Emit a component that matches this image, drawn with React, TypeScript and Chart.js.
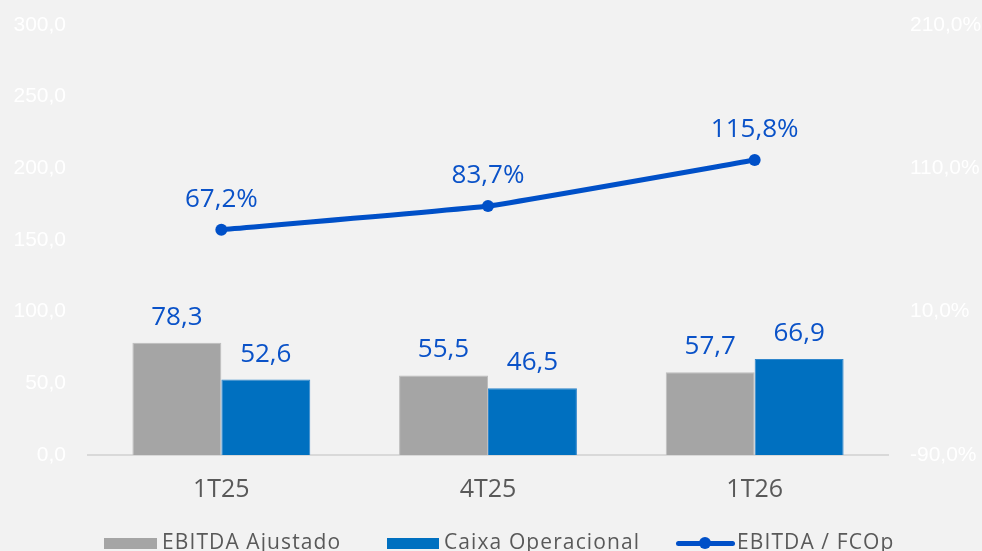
import React, { useEffect, useRef } from "react";
import { Chart, registerables } from "chart.js";

Chart.register(...registerables);

const categories = ["1T25", "4T25", "1T26"];
const ebitdaAjustado = [78.3, 55.5, 57.7];
const caixaOperacional = [52.6, 46.5, 66.9];
const ebitdaFcop = [67.2, 83.7, 115.8];

const leftMin = 0;
const leftMax = 300;
const leftStep = 50;
const rightMin = -90;
const rightMax = 210;
const rightStep = 100;

const BG = "#f2f2f2";
const GRAY = "#a5a5a5";
const BLUE = "#0070c0";
const LINE = "#0050c8";
const LABEL_BLUE = "#0a52c8";
const TEXT = "#595959";
const FONT = "'Open Sans', 'Noto Sans', sans-serif";
const TICK_FONT = "'Liberation Sans', sans-serif";

const fmt = (v: number) => v.toFixed(1).replace(".", ",");

const dataLabels = {
  id: "dataLabels",
  afterDatasetsDraw(chart: any) {
    const ctx = chart.ctx;
    ctx.save();
    ctx.fillStyle = LABEL_BLUE;
    ctx.textAlign = "center";
    ctx.textBaseline = "alphabetic";
    ctx.font = `26px ${FONT}`;
    chart.data.datasets.forEach((ds: any, di: number) => {
      const meta = chart.getDatasetMeta(di);
      meta.data.forEach((el: any, i: number) => {
        const v = ds.data[i];
        if (ds.type === "line") {
          ctx.fillText(fmt(v) + "%", el.x, el.y - 23);
        } else {
          ctx.fillText(fmt(v), el.x, el.y - 18);
        }
      });
    });
    ctx.restore();
  },
};

export default function App() {
  const canvasRef = useRef<HTMLCanvasElement | null>(null);

  useEffect(() => {
    document.body.style.margin = "0";
    document.body.style.background = BG;
    const canvas = canvasRef.current;
    if (!canvas) return;
    const chart = new Chart(canvas, {
      data: {
        labels: categories,
        datasets: [
          {
            type: "line",
            label: "EBITDA / FCOp",
            data: ebitdaFcop,
            yAxisID: "y1",
            borderColor: LINE,
            backgroundColor: LINE,
            borderWidth: 5,
            pointRadius: 6,
            pointHoverRadius: 6,
            pointBackgroundColor: LINE,
            pointBorderColor: LINE,
            pointBorderWidth: 0,
            tension: 0.1,
            order: 0,
          },
          {
            type: "bar",
            label: "EBITDA Ajustado",
            data: ebitdaAjustado,
            yAxisID: "y",
            backgroundColor: GRAY,
            borderColor: "#bdbdbd",
            borderWidth: 1,
            categoryPercentage: 0.667,
            barPercentage: 1,
            order: 1,
          },
          {
            type: "bar",
            label: "Caixa Operacional",
            data: caixaOperacional,
            yAxisID: "y",
            backgroundColor: BLUE,
            borderColor: "#2f86cc",
            borderWidth: 1,
            categoryPercentage: 0.667,
            barPercentage: 1,
            order: 1,
          },
        ],
      } as any,
      options: {
        animation: false,
        responsive: true,
        maintainAspectRatio: false,
        layout: { padding: { top: 25, bottom: 0, left: 0, right: 0 } },
        plugins: {
          legend: { display: false },
          tooltip: { enabled: false },
        },
        scales: {
          x: {
            grid: { display: false, drawTicks: false },
            border: { display: true, color: "#d9d9d9", width: 2 },
            ticks: {
              color: TEXT,
              font: { family: FONT, size: 25 },
              padding: 20,
            },
            afterFit(scale: any) {
              scale.height = 96;
            },
          },
          y: {
            position: "left",
            min: leftMin,
            max: leftMax,
            grid: { display: false, drawTicks: false },
            border: { display: false },
            ticks: {
              stepSize: leftStep,
              color: "#ffffff",
              font: { family: TICK_FONT, size: 21 },
              padding: 22,
              callback: (v: any) => fmt(Number(v)),
            },
            afterFit(scale: any) {
              scale.width = 88;
              scale.paddingTop = 0;
              scale.paddingBottom = 0;
            },
          },
          y1: {
            position: "right",
            min: rightMin,
            max: rightMax,
            grid: { display: false, drawTicks: false },
            border: { display: false },
            ticks: {
              stepSize: rightStep,
              color: "#ffffff",
              font: { family: TICK_FONT, size: 21 },
              padding: 22,
              callback: (v: any) => fmt(Number(v)) + "%",
            },
            afterFit(scale: any) {
              scale.width = 94;
              scale.paddingTop = 0;
              scale.paddingBottom = 0;
            },
          },
        },
      } as any,
      plugins: [dataLabels],
    });
    return () => chart.destroy();
  }, []);

  const legendText: React.CSSProperties = {
    position: "absolute",
    top: 531,
    font: `21px ${FONT}`,
    lineHeight: "21px",
    letterSpacing: "1.1px",
    color: TEXT,
    whiteSpace: "nowrap",
  };

  return (
    <div
      style={{
        position: "relative",
        width: 982,
        height: 551,
        overflow: "hidden",
        background: BG,
      }}
    >
      <div style={{ position: "absolute", left: 0, top: 0, width: 982, height: 551 }}>
        <canvas ref={canvasRef} />
      </div>
      <div style={{ position: "absolute", left: 104, top: 538, width: 53, height: 11, background: GRAY }} />
      <div style={{ ...legendText, left: 162 }}>EBITDA Ajustado</div>
      <div style={{ position: "absolute", left: 387, top: 538, width: 52, height: 11, background: BLUE }} />
      <div style={{ ...legendText, left: 444 }}>Caixa Operacional</div>
      <div style={{ position: "absolute", left: 676, top: 541, width: 59, height: 5, borderRadius: 3, background: LINE }} />
      <div style={{ position: "absolute", left: 699, top: 537, width: 12, height: 12, borderRadius: 6, background: LINE }} />
      <div style={{ ...legendText, left: 737 }}>EBITDA / FCOp</div>
    </div>
  );
}
